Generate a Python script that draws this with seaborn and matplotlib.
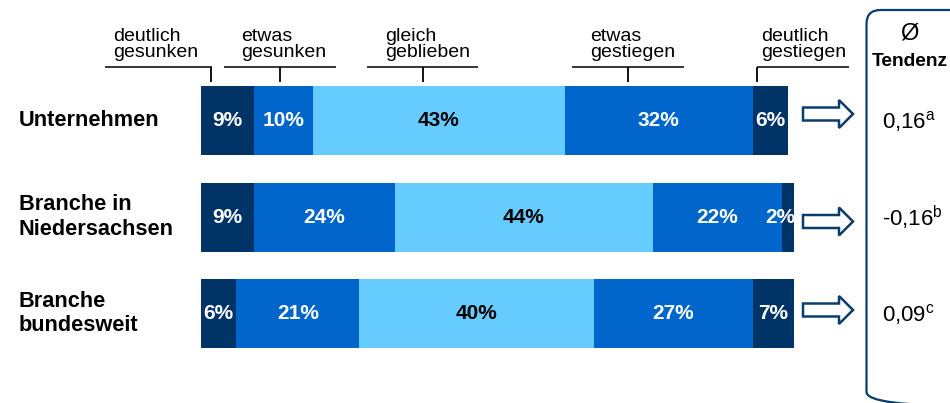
import numpy as np
import matplotlib
matplotlib.use("Agg")
import matplotlib.pyplot as plt
import seaborn as sns
from matplotlib import transforms as mtransforms
from matplotlib.patches import FancyBboxPatch, Polygon

# --- data -------------------------------------------------------------
rows = ["Unternehmen", "Branche in\nNiedersachsen", "Branche\nbundesweit"]
categories = ["deutlich\ngesunken", "etwas\ngesunken", "gleich\ngeblieben",
              "etwas\ngestiegen", "deutlich\ngestiegen"]
deutlich_gesunken = [9, 9, 6]
etwas_gesunken = [10, 24, 21]
gleich_geblieben = [43, 44, 40]
etwas_gestiegen = [32, 22, 27]
deutlich_gestiegen = [6, 2, 7]
tendenz = ["0,16", "-0,16", "0,09"]
tendenz_note = ["a", "b", "c"]

series = [deutlich_gesunken, etwas_gesunken, gleich_geblieben,
          etwas_gestiegen, deutlich_gestiegen]
colors = ["#003366", "#0066CC", "#66CCFF", "#0066CC", "#003366"]
label_colors = ["white", "white", "black", "white", "white"]
NAVY = "#0B3C6E"

# --- style ------------------------------------------------------------
sns.set_theme(style="white")
plt.rcParams["font.family"] = ["Liberation Sans", "DejaVu Sans"]
plt.rcParams["mathtext.default"] = "regular"

W, H = 950, 403
fig = plt.figure(figsize=(W / 100, H / 100), dpi=100)
ax = fig.add_axes([0, 0, 1, 1])

# layout of the percent axis in the canvas
X0, PX_PER = 201, 5.87      # left edge of bars, pixels per percent
Y0, RS = 120.5, 96.5        # centre of first row, row pitch (pixels)
BAR_H = 69 / RS


def px2x(px):
    return (px - X0) / PX_PER


def py2y(py):
    return (py - Y0) / RS


# pixel coordinates (y measured from the top) for decorations
pix = mtransforms.Affine2D().scale(1 / W, -1 / H).translate(0, 1) + fig.transFigure

# --- stacked bars -----------------------------------------------------
vals = np.array(series)
cum = np.cumsum(vals, axis=0)
for k in reversed(range(len(series))):
    sns.barplot(x=cum[k], y=rows, orient="h", color=colors[k], saturation=1,
                width=BAR_H, linewidth=0, ax=ax)

ax.set_xlim(px2x(0), px2x(W))
ax.set_ylim(py2y(H), py2y(0))
ax.set_axis_off()

for i in range(len(rows)):
    for k in range(len(series)):
        v = vals[k][i]
        end = cum[k][i]
        if v >= 4:
            x, ha = end - v / 2, "center"
        else:
            x, ha = end + 0.2, "right"
        ax.text(x, i, f"{v}%", ha=ha, va="center", color=label_colors[k],
                fontsize=15, fontweight="bold")

# --- row labels -------------------------------------------------------
for i, r in enumerate(rows):
    ax.text(px2x(19), i, r, ha="left", va="center", fontsize=15.7,
            fontweight="bold", color="black", linespacing=1.2)

# --- category headers with brackets ----------------------------------
head_text_x = [113, 241, 385, 590, 761]
head_span = [(105, 212), (224, 336), (367, 478), (572, 684), (757, 849)]
head_tick = [211, 280, 423, 628, 757]
for lab, tx, (a, b), t in zip(categories, head_text_x, head_span, head_tick):
    ax.text(px2x(tx), py2y(61), lab, ha="left", va="bottom", fontsize=14,
            color="black", linespacing=0.92)
    ax.plot([px2x(a), px2x(b)], [py2y(67), py2y(67)], color="black", lw=1.1,
            solid_capstyle="butt")
    ax.plot([px2x(t), px2x(t)], [py2y(67), py2y(82)], color="black", lw=1.3,
            solid_capstyle="butt")

# --- arrows -----------------------------------------------------------
arrow_y = [114, 221.5, 310]
for yc in arrow_y:
    x_tail, x_head, x_tip = 803, 839, 853
    sh, hh = 6.5, 14
    verts = [(x_tail, yc - sh), (x_head, yc - sh), (x_head, yc - hh),
             (x_tip, yc), (x_head, yc + hh), (x_head, yc + sh),
             (x_tail, yc + sh)]
    fig.patches.append(Polygon(verts, closed=True, facecolor="white",
                               edgecolor=NAVY, lw=1.8, transform=pix,
                               joinstyle="miter"))

# --- Tendenz box ------------------------------------------------------
box = FancyBboxPatch((866.5, 10), 120, 396,
                     boxstyle="round,pad=0,rounding_size=14",
                     facecolor="none", edgecolor=NAVY, lw=1.6, transform=pix)
fig.patches.append(box)

fig.text(909 / W, 1 - 34 / H, "Ø", ha="center", va="center", fontsize=17,
         color="black")
fig.text(910 / W, 1 - 62 / H, "Tendenz", ha="center", va="center",
         fontsize=13.8, fontweight="bold", color="black")

for i, (t, n) in enumerate(zip(tendenz, tendenz_note)):
    ax.text(px2x(882), i + 0.01, f"{t}$^{{{n}}}$", ha="left", va="center",
            fontsize=16, color="black")

fig.savefig("out.png", dpi=100, facecolor="white")
